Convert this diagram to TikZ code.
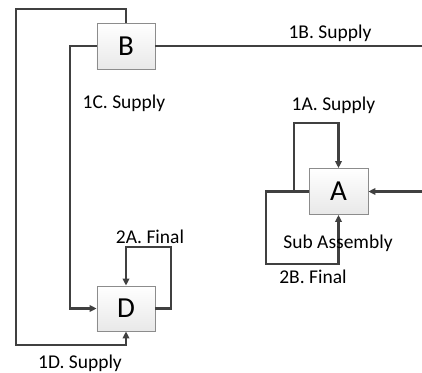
\documentclass[tikz,border=0pt]{standalone}
\usepackage{fontspec}
\setmainfont{Carlito}
\usetikzlibrary{arrows.meta}
\definecolor{linec}{HTML}{404040}
\definecolor{boxline}{HTML}{8C8C8C}
\tikzset{
  blk/.style={draw=boxline, line width=0.8bp, top color=white, bottom color=gray!18,
    minimum width=58bp, minimum height=46bp, inner sep=0pt,
    font=\fontsize{29bp}{32bp}\selectfont},
  conn/.style={draw=linec, line width=2.2bp},
  arr/.style={conn, -{Triangle[length=7bp,width=6.5bp]}},
  lbl/.style={font=\fontsize{19.5bp}{23bp}\selectfont, inner sep=0pt, text=black}
}
\begin{document}
\begin{tikzpicture}[x=1bp,y=-1bp]
\useasboundingbox (0,0) rectangle (422,373);
\node[blk] (B) at (126,46) {B};
\node[blk, minimum height=45bp] (D) at (126,308.5) {D};
\node[blk, minimum width=59bp] (A) at (338.5,191.5) {A};
\coordinate (e1) at (422,46);
\coordinate (e2) at (422,191.5);
\coordinate (j) at (294,191.5);
% 1D supply loop
\draw[arr] (B.north) -- (126,9) -- (16,9) -- (16,345) -- (126,345) -- (D.south);
% 1C supply
\draw[arr] (B.west) -- (70,46) -- (70,308.5) -- (D.west);
% 1B supply
\draw[conn] (B.east) -- (e1);
% 2A final
\draw[arr] (D.east) -- (171,308.5) -- (171,247) -- (126,247) -- (D.north);
% into A
\draw[arr] (e2) -- (A.east);
% 2B final
\draw[arr] (A.west) -- (266,191.5) -- (266,264) -- (338.5,264) -- (A.south);
% 1A supply
\draw[arr] (j) -- (294,123) -- (338.5,123) -- (A.north);
% labels
\node[lbl] (l1b) at (330,33) {1B. Supply};
\node[lbl] (l1c) at (124,103) {1C. Supply};
\node[lbl] (l1a) at (333.5,105) {1A. Supply};
\node[lbl] (l2a) at (150,237) {2A. Final};
\node[lbl] (lsa) at (338,243) {Sub Assembly};
\node[lbl] (l2b) at (313,277) {2B. Final};
\node[lbl] (l1d) at (80,363) {1D. Supply};
\end{tikzpicture}
\end{document}
